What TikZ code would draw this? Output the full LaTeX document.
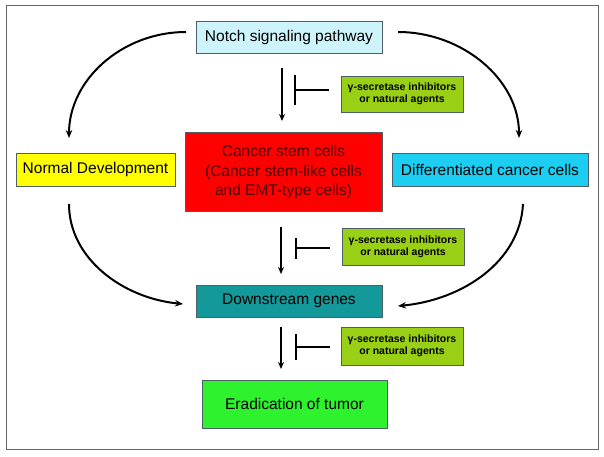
\documentclass[tikz,border=0pt]{standalone}
\usepackage{fontspec}
\setmainfont{Liberation Sans}
\usetikzlibrary{arrows.meta}
\definecolor{notchc}{HTML}{CCF4FA}
\definecolor{cscc}{HTML}{FF0000}
\definecolor{normc}{HTML}{FFFF00}
\definecolor{diffc}{HTML}{1CCFF2}
\definecolor{downc}{HTML}{14999B}
\definecolor{eradc}{HTML}{2EF22E}
\definecolor{inhc}{HTML}{99D016}
\definecolor{edgec}{HTML}{4E5F66}
\definecolor{csctext}{HTML}{4A0000}
\tikzset{
  box/.style={draw=edgec, line width=0.8pt, minimum width=#1, inner sep=0pt, font=\fontsize{15.5}{18}\selectfont, align=center},
  inhbox/.style={draw=edgec, line width=0.8pt, fill=inhc, minimum width=122pt, minimum height=37pt, inner sep=0pt, font=\fontsize{10.5}{12}\selectfont\bfseries, align=center},
  flow/.style={line width=1.6pt, -{Stealth[length=7pt,width=6pt]}},
  curv/.style={line width=2pt, -{Stealth[length=8pt,width=6.5pt]}},
  blockar/.style={line width=1.8pt, -{Bar[width=#1,line width=2.4pt]}}
}
\begin{document}
\begin{tikzpicture}[x=1pt,y=-1pt]
\useasboundingbox (0,0) rectangle (604,457);
\draw[gray!80!black, line width=1pt] (6,6) rectangle (598,449);

\node[box=186pt, minimum height=32pt, fill=notchc] (notch) at (289,37) {Notch signaling pathway};
\node[box=197pt, minimum height=79pt, fill=cscc, text=csctext, font=\fontsize{15.5}{19.5}\selectfont] (csc) at (283.5,172) {Cancer stem cells\\(Cancer stem-like cells\\and EMT-type cells)};
\node[box=159pt, minimum height=33pt, fill=normc] (normal) at (95.5,169.5) {Normal Development};
\node[box=196pt, minimum height=33pt, fill=diffc] (diff) at (490,169.5) {Differentiated cancer cells};
\node[box=186pt, minimum height=32pt, fill=downc] (down) at (289,301) {Downstream genes};
\node[box=185pt, minimum height=48pt, fill=eradc] (erad) at (294.5,404) {Eradication of tumor};

\node[inhbox, minimum height=36pt] (inh1) at (402,94) {γ-secretase inhibitors\\or natural agents};
\node[inhbox] (inh2) at (403,246.5) {γ-secretase inhibitors\\or natural agents};
\node[inhbox, minimum height=38pt] (inh3) at (402,346) {γ-secretase inhibitors\\or natural agents};

% vertical flow arrows
\coordinate (a1s) at (282,68); \coordinate (a1e) at (282,121);
\coordinate (a2s) at (281,227); \coordinate (a2e) at (281,274);
\coordinate (a3s) at (281,327); \coordinate (a3e) at (281,369);
\draw[flow] (a1s) -- (a1e);
\draw[flow] (a2s) -- (a2e);
\draw[flow] (a3s) -- (a3e);

% inhibition bars
\coordinate (b1) at (294,90);  \coordinate (h1) at (329,90);
\coordinate (b2) at (295,248); \coordinate (h2) at (330,248);
\coordinate (b3) at (295,347); \coordinate (h3) at (330,347);
\draw[blockar=30pt] (h1) -- (b1);
\draw[blockar=21pt] (h2) -- (b2);
\draw[blockar=26pt] (h3) -- (b3);

% curved arrows
\coordinate (c1s) at (186,32);  \coordinate (c1e) at (69,138);
\coordinate (c2s) at (398,32);  \coordinate (c2e) at (519,138);
\coordinate (c3s) at (69,204);  \coordinate (c3e) at (183,304);
\coordinate (c4s) at (523,204); \coordinate (c4e) at (398,306);
\draw[curv] (c1s) .. controls (122,32) and (69,80) .. (c1e);
\draw[curv] (c2s) .. controls (463,32) and (519,80) .. (c2e);
\draw[curv] (c3s) .. controls (69,258) and (122,298) .. (c3e);
\draw[curv] (c4s) .. controls (520,262) and (462,300) .. (c4e);
\end{tikzpicture}
\end{document}
